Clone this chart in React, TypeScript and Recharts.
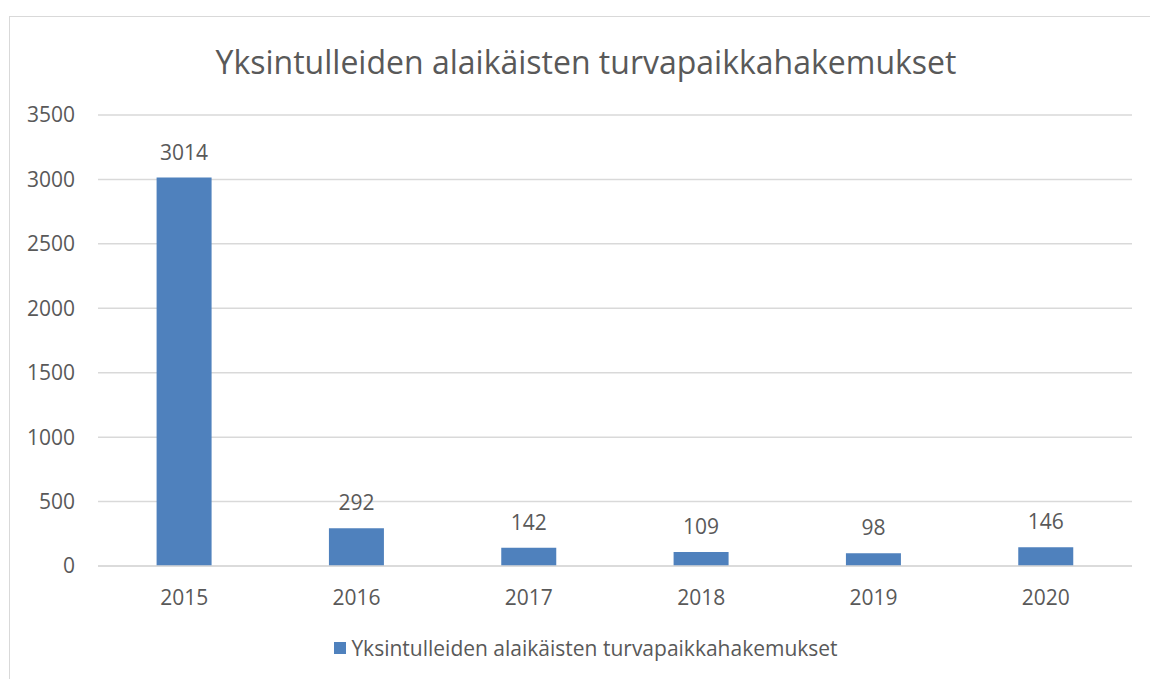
import React from "react";
import { BarChart, Bar, XAxis, YAxis, CartesianGrid, LabelList, Legend } from "recharts";

const categories = ["2015", "2016", "2017", "2018", "2019", "2020"];
const values = [3014, 292, 142, 109, 98, 146];
const yTicks = [0, 500, 1000, 1500, 2000, 2500, 3000, 3500];
const seriesName = "Yksintulleiden alaikäisten turvapaikkahakemukset";
const title = "Yksintulleiden alaikäisten turvapaikkahakemukset";

const data = categories.map((c, i) => ({ year: c, value: values[i] }));

const FONT = "'Open Sans', 'Noto Sans', sans-serif";
const TEXT = "#595959";
const BAR = "#4F81BD";

const LegendContent = () => (
  <div style={{ display: "flex", justifyContent: "center", alignItems: "center", fontFamily: FONT, fontSize: 21, color: TEXT, marginTop: 28, paddingLeft: 40 }}>
    <span style={{ display: "inline-block", width: 12, height: 12, background: BAR, marginRight: 5 }} />
    <span>{seriesName}</span>
  </div>
);

export default function App() {
  return (
    <div style={{ position: "fixed", left: 0, top: 0, width: 1150, height: 679, overflow: "hidden", background: "#fff" }}>
      <div style={{ position: "absolute", left: 9, top: 16, width: 1300, height: 800, borderLeft: "1px solid #D9D9D9", borderTop: "1px solid #D9D9D9", boxSizing: "border-box" }} />
      <div style={{ position: "absolute", left: 0, top: 40, width: 1172, textAlign: "center", fontFamily: FONT, fontSize: 32, color: TEXT, lineHeight: "44px" }}>
        {title}
      </div>
      <div style={{ position: "absolute", left: 0, top: 0 }}>
        <BarChart width={1150} height={679} data={data} margin={{ top: 115, right: 18, left: 0, bottom: 0 }} barCategoryGap="34%">
          <CartesianGrid vertical={false} stroke="#D9D9D9" strokeWidth={1.5} />
          <XAxis dataKey="year" axisLine={{ stroke: "#D9D9D9", strokeWidth: 1.5 }} tickLine={false} tickMargin={18} height={40}
            tick={{ fontFamily: FONT, fontSize: 21, fill: TEXT }} />
          <YAxis domain={[0, 3500]} ticks={yTicks} width={98} axisLine={false} tickLine={false} tickMargin={17}
            tick={{ fontFamily: FONT, fontSize: 21, fill: TEXT }} />
          <Legend verticalAlign="bottom" height={73} content={<LegendContent />} />
          <Bar dataKey="value" name={seriesName} fill={BAR} isAnimationActive={false}>
            <LabelList dataKey="value" position="top" offset={18} style={{ fontFamily: FONT, fontSize: 21, fill: TEXT }} />
          </Bar>
        </BarChart>
      </div>
    </div>
  );
}
